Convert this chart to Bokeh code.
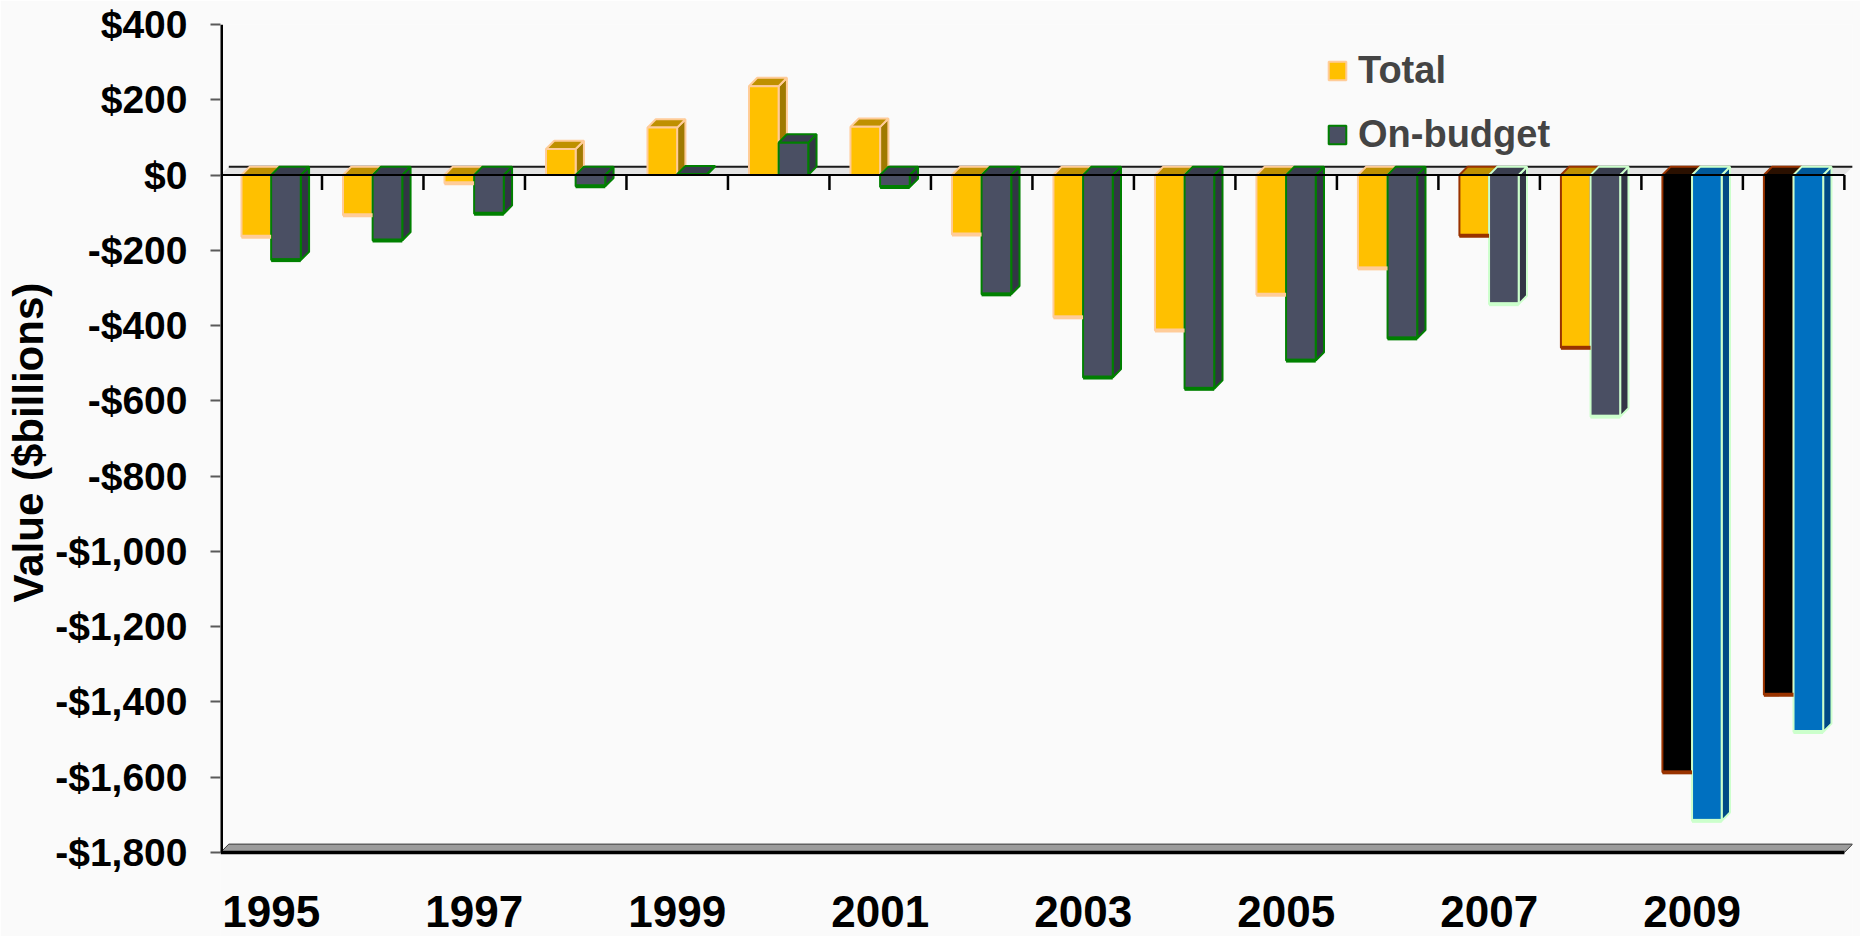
from bokeh.plotting import figure
from bokeh.models import Range1d, FixedTicker, Legend, LegendItem, Title
from bokeh.embed import file_html
from bokeh.resources import INLINE
from bokeh.core.properties import value

# ---------------- data ----------------
years = [1995, 1996, 1997, 1998, 1999, 2000, 2001, 2002,
         2003, 2004, 2005, 2006, 2007, 2008, 2009, 2010]
total = [-164, -107, -22, 69, 126, 236, 128, -158,
         -378, -413, -318, -248, -161, -459, -1587, -1381]
on_budget = [-226, -174, -103, -30, 2, 86, -32, -317,
             -538, -568, -493, -434, -343, -642, -1716, -1480]
series_names = ["Total", "On-budget"]
y_ticks = [400, 200, 0, -200, -400, -600, -800, -1000, -1200, -1400, -1600, -1800]
y_tick_labels = ["$400", "$200", "$0", "-$200", "-$400", "-$600", "-$800",
                 "-$1,000", "-$1,200", "-$1,400", "-$1,600", "-$1,800"]
x_labels = ["1995", "1997", "1999", "2001", "2003", "2005", "2007", "2009"]
y_title = "Value ($billions)"

# ---------------- layout / style ----------------
FONT_NAME = "Liberation Sans"
FONT = value(FONT_NAME)
W, H = 1860, 936
LEFT, RIGHT, TOP = 220, 8, 24
FRAME_W = W - LEFT - RIGHT
FRAME_H = H - TOP
ymax, ymin = max(y_ticks), min(y_ticks)
S = 828.0 / (ymax - ymin)            # px per $ billion
y_lo = ymax - FRAME_H / S
n = len(years)
x_hi = n + 0.08
PXU = FRAME_W / x_hi                 # px per category
DX = 8.3 / PXU                       # 3-D depth (x, data units)
DY = 8.4 / S                         # 3-D depth (y, data units)
BW = 0.292
OFF = [0.207, 0.499]

def kind(yr):
    if yr >= 2009:
        return "p"
    if yr >= 2007:
        return "r"
    return "a"

pal = {
    "Total": dict(face={"a": "#FFC000", "r": "#FFC000", "p": "#000000"},
                  cap={"a": "#BF9000", "r": "#BF9000", "p": "#2A1000"},
                  side={"a": "#A07A00", "r": "#A07A00", "p": "#0A0A0A"},
                  edge={"a": "#FFCC99", "r": "#993300", "p": "#993300"}),
    "On-budget": dict(face={"a": "#4A4F63", "r": "#4A4F63", "p": "#0070C0"},
                      cap={"a": "#393D4E", "r": "#393D4E", "p": "#00589A"},
                      side={"a": "#323545", "r": "#323545", "p": "#004A85"},
                      edge={"a": "#008000", "r": "#CCFFCC", "p": "#CCFFCC"}),
}

p = figure(width=W, height=H, x_range=Range1d(0, x_hi), y_range=Range1d(y_lo, ymax),
           output_backend="svg", toolbar_location=None, title=None,
           x_axis_location=None, y_axis_location="left",
           min_border_left=LEFT, min_border_right=RIGHT, min_border_top=TOP,
           min_border_bottom=0)
p.outline_line_color = None
p.background_fill_color = "#FAFAFA"
p.border_fill_color = "#FAFAFA"
p.grid.visible = False

# y axis
ax = p.yaxis[0]
ax.ticker = FixedTicker(ticks=y_ticks)
ax.major_label_overrides = {t: l for t, l in zip(y_ticks, y_tick_labels)}
ax.axis_line_alpha = 0
ax.major_tick_out = 10
ax.major_tick_in = 0
ax.major_tick_line_color = "#595959"
ax.major_tick_line_width = 2
ax.minor_tick_line_color = None
ax.major_label_standoff = 23
ax.major_label_text_font = FONT_NAME
ax.major_label_text_font_style = "bold"
ax.major_label_text_font_size = "39px"
ax.major_label_text_color = "#000000"

p.add_layout(Title(text=y_title, align="left", offset=334, standoff=0,
                   vertical_align="middle", text_font=FONT_NAME, text_font_style="bold",
                   text_font_size="42px", text_color="#000000"), "left")

# floor at the bottom of the value axis
p.patch([0, n, n + DX, DX], [ymin, ymin, ymin + DY, ymin + DY],
        fill_color="#9C9C9C", line_color="#3A3A3A", line_width=1)
p.segment(x0=[0], y0=[ymin], x1=[n], y1=[ymin], line_color="#000000", line_width=3.5)

# zero plane
p.patch([0, n, n + DX, DX], [0, 0, DY, DY], fill_color="#D5D5D5", fill_alpha=0.6,
        line_color=None)
p.segment(x0=[DX], y0=[DY], x1=[n + DX], y1=[DY], line_color="#1A1A1A", line_width=2)

# bars (3-D: side, cap, front)
xs, ys, fills, lines = [], [], [], []
bot_x0, bot_x1, bot_y, bot_c = [], [], [], []
for i, yr in enumerate(years):
    k = kind(yr)
    for s, vals in enumerate([total, on_budget]):
        v = vals[i]
        c = pal[series_names[s]]
        L = i + OFF[s]
        R = L + BW
        yt, yb = max(0, v), min(0, v)
        xs.append([R, R + DX, R + DX, R]); ys.append([yb, yb + DY, yt + DY, yt])
        fills.append(c["side"][k]); lines.append(c["edge"][k])
        xs.append([L, R, R + DX, L + DX]); ys.append([yt, yt, yt + DY, yt + DY])
        fills.append(c["cap"][k]); lines.append(c["edge"][k])
        xs.append([L, R, R, L]); ys.append([0, 0, v, v])
        fills.append(c["face"][k]); lines.append(c["edge"][k])
        if v < 0:
            bot_x0.append(L); bot_x1.append(R); bot_y.append(v); bot_c.append(c["edge"][k])

bars = p.patches(xs, ys, fill_color=fills, line_color=lines, line_width=2)
p.segment(x0=bot_x0, y0=bot_y, x1=bot_x1, y1=bot_y, line_color=bot_c, line_width=4)

# front edge of zero plane and category ticks
p.segment(x0=[0], y0=[0], x1=[n], y1=[0], line_color="#000000", line_width=2)
cat_ticks = list(range(1, n + 1))
p.segment(x0=cat_ticks, y0=[0] * n, x1=cat_ticks, y1=[-15 / S] * n,
          line_color="#000000", line_width=2.5)

# value-axis line
p.segment(x0=[0], y0=[ymin], x1=[0], y1=[ymax], line_color="#000000", line_width=5)

# category labels
lab_x = [i + 0.5 for i in range(0, n, 2)]
lab_y = ymax - (911 - TOP) / S
p.text(x=lab_x, y=[lab_y] * len(lab_x), text=x_labels, text_font=FONT,
       text_font_style="bold", text_font_size="44px", text_align="center",
       text_baseline="middle", text_color="#000000")

legend = Legend(items=[LegendItem(label=series_names[0], renderers=[bars], index=2),
                       LegendItem(label=series_names[1], renderers=[bars], index=5)],
                location=(1106, 780), glyph_width=22, glyph_height=23,
                label_text_font=FONT_NAME, label_text_font_style="bold",
                label_text_font_size="38px", spacing=21, padding=0, margin=0,
                label_standoff=10, border_line_alpha=0, background_fill_alpha=0)
p.add_layout(legend)

open("out.html", "w").write(file_html(p, INLINE))
